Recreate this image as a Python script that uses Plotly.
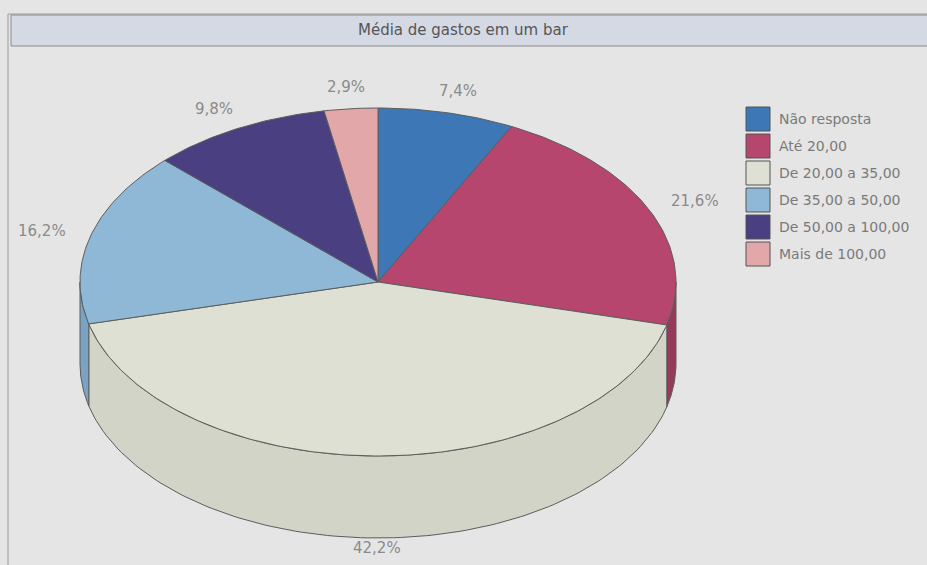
import numpy as np
import plotly.graph_objects as go

# ---- data ----
title_text = "Média de gastos em um bar"
categories = [
    "Não resposta",
    "Até 20,00",
    "De 20,00 a 35,00",
    "De 35,00 a 50,00",
    "De 50,00 a 100,00",
    "Mais de 100,00",
]
percentages = [7.4, 21.6, 42.2, 16.2, 9.8, 2.9]

# ---- styling ----
top_colors = ["#3d77b6", "#b6466d", "#dde0d3", "#8fb8d7", "#4a3f80", "#e2a7a8"]
side_colors = ["#33649a", "#963a5a", "#d1d4c6", "#7aa2c2", "#3c336a", "#c99093"]
edge_color = "#5c5c5c"
bg_color = "#e5e5e5"
label_color = "#8a8a8a"
font_family = "DejaVu Sans"

W, H = 927, 565
CX, CY = 378.0, 282.0      # centre of the pie's top face
RA, RB = 298.0, 174.0      # horizontal / vertical radii of the top ellipse
DEPTH = 82.0               # thickness of the pie


def ellipse_pts(t, rx=RA, ry=RB, dz=0.0):
    """Angles measured clockwise from 12 o'clock."""
    t = np.asarray(t, dtype=float)
    return CX + rx * np.sin(t), CY - ry * np.cos(t) + dz


vals = np.array(percentages, dtype=float)
fracs = vals / vals.sum()
ends = np.cumsum(fracs) * 2 * np.pi
starts = np.concatenate([[0.0], ends[:-1]])

fig = go.Figure()

# side wall (front half only: angles between 90 and 270 degrees)
for i in range(len(vals)):
    s0 = max(starts[i], np.pi / 2)
    s1 = min(ends[i], 3 * np.pi / 2)
    if s1 <= s0:
        continue
    t = np.linspace(s0, s1, 120)
    xt, yt = ellipse_pts(t)
    xb, yb = ellipse_pts(t[::-1], dz=DEPTH)
    xs = np.concatenate([xt, xb, xt[:1]])
    ys = np.concatenate([yt, yb, yt[:1]])
    fig.add_trace(go.Scatter(
        x=xs, y=ys, mode="lines", fill="toself",
        fillcolor=side_colors[i], line=dict(color=edge_color, width=1),
        hoverinfo="skip", showlegend=False,
    ))

# top face slices
for i in range(len(vals)):
    n = max(8, int(400 * fracs[i]))
    t = np.linspace(starts[i], ends[i], n)
    xa, ya = ellipse_pts(t)
    xs = np.concatenate([[CX], xa, [CX]])
    ys = np.concatenate([[CY], ya, [CY]])
    fig.add_trace(go.Scatter(
        x=xs, y=ys, mode="lines", fill="toself",
        fillcolor=top_colors[i], line=dict(color=edge_color, width=1),
        name=categories[i], hoverinfo="skip", showlegend=False,
    ))

annotations = []

# percentage labels placed outside each slice's mid angle
for i in range(len(vals)):
    mid = (starts[i] + ends[i]) / 2
    c = np.cos(mid)
    ry = RB + (22 if c >= 0 else 10)
    lx, ly = ellipse_pts(mid, rx=RA + 50, ry=ry)
    if c < 0:
        ly = ly + DEPTH * (-c)
    annotations.append(dict(
        x=float(lx), y=float(ly), xref="x", yref="y",
        text=f"{percentages[i]:.1f}%".replace(".", ","),
        showarrow=False, xanchor="center", yanchor="middle",
        font=dict(family=font_family, size=15, color=label_color),
    ))

# title bar text
annotations.append(dict(
    x=463, y=30, xref="x", yref="y", text=title_text, showarrow=False,
    xanchor="center", yanchor="middle",
    font=dict(family=font_family, size=15, color="#565656"),
))

shapes = [
    # outer frame
    dict(type="rect", xref="x", yref="y", x0=8, y0=14, x1=W + 20, y1=H + 20,
         line=dict(color="#9a9a9a", width=1), fillcolor=bg_color, layer="below"),
    # title bar
    dict(type="rect", xref="x", yref="y", x0=11, y0=15, x1=W + 20, y1=46,
         line=dict(color="#8c8c8c", width=1), fillcolor="#d5d9e3", layer="below"),
]

# legend: swatch boxes and entries
LEG_X, LEG_Y, BOX, PITCH = 746, 107, 24, 27
for i, cat in enumerate(categories):
    y0 = LEG_Y + i * PITCH
    shapes.append(dict(
        type="rect", xref="x", yref="y", x0=LEG_X, y0=y0, x1=LEG_X + BOX, y1=y0 + BOX,
        line=dict(color="#555555", width=1), fillcolor=top_colors[i],
    ))
    annotations.append(dict(
        x=LEG_X + BOX + 7, y=y0 + BOX / 2, xref="x", yref="y", text=cat,
        showarrow=False, xanchor="left", yanchor="middle",
        font=dict(family=font_family, size=14, color="#7a7a7a"),
    ))

fig.update_layout(
    width=W, height=H,
    margin=dict(l=0, r=0, t=0, b=0),
    paper_bgcolor=bg_color, plot_bgcolor=bg_color,
    xaxis=dict(range=[0, W], visible=False, fixedrange=True),
    yaxis=dict(range=[H, 0], visible=False, fixedrange=True),
    shapes=shapes, annotations=annotations,
    showlegend=False,
)

fig.write_html("out.html")
